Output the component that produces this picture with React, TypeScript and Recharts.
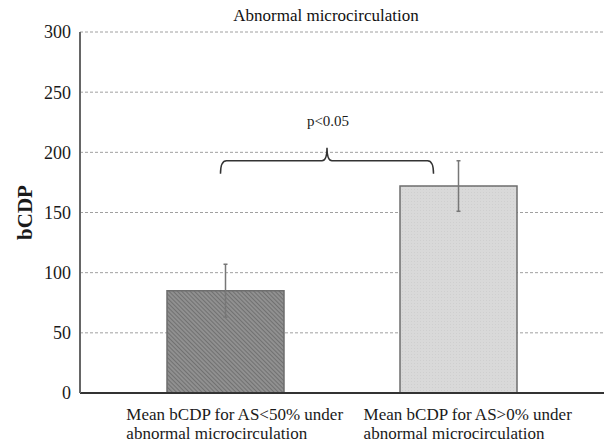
import React from "react";
import {
  BarChart,
  Bar,
  Cell,
  XAxis,
  YAxis,
  CartesianGrid,
  ErrorBar,
  ReferenceLine,
  Label,
} from "recharts";

const CATEGORIES = [
  "Mean bCDP for AS<50% under\nabnormal microcirculation",
  "Mean bCDP for AS>0% under\nabnormal microcirculation",
];
const MEANS = [85, 172];
const ERRORS = [22, 21];
const Y_TICKS = [0, 50, 100, 150, 200, 250, 300];
const BRACKET_LEVEL = 193;
const SIG_LABEL = "p<0.05";
const TITLE = "Abnormal microcirculation";

const FONT = "'Liberation Serif', 'Times New Roman', serif";
const BAR_FILLS = ["url(#hatchDark)", "url(#dotLight)"];

const data = CATEGORIES.map((name, i) => ({
  name,
  value: MEANS[i],
  err: [ERRORS[i], ERRORS[i]],
}));

function textWidth(s: string, font: string) {
  const c = document.createElement("canvas").getContext("2d");
  if (!c) return s.length * 8;
  c.font = font;
  return c.measureText(s).width;
}

function CategoryTick(props: any) {
  const { x, y, payload } = props;
  const lines = String(payload.value).split("\n");
  const w = textWidth(lines[0], `17px ${FONT}`);
  const startX = x + 10 - w / 2;
  return (
    <g>
      {lines.map((l, i) => (
        <text
          key={i}
          x={startX}
          y={y + 19 + i * 19}
          fontFamily={FONT}
          fontSize={17}
          fill="#1a1a1a"
          textAnchor="start"
        >
          {l}
        </text>
      ))}
    </g>
  );
}

// curly brace drawn between the two category centres
function Brace(props: any) {
  const { x1, x2, y1 } = props;
  if (x1 == null || x2 == null) return null;
  const L = x1 - 5;
  const R = x2 - 25;
  const M = (L + R) / 2;
  const y = y1;
  const d = `M ${L} ${y + 13} Q ${L} ${y} ${L + 6} ${y} L ${M - 5} ${y} Q ${M} ${y} ${M} ${y - 13} Q ${M} ${y} ${M + 5} ${y} L ${R - 6} ${y} Q ${R} ${y} ${R} ${y + 13}`;
  return (
    <g>
      <path d={d} fill="none" stroke="#333" strokeWidth={1.5} />
      <text x={M + 1} y={y - 35} textAnchor="middle" fontFamily={FONT} fontSize={15} fill="#1a1a1a">
        {SIG_LABEL}
      </text>
    </g>
  );
}

export default function App() {
  return (
    <div style={{ position: "fixed", left: 0, top: 0, width: 607, height: 445, background: "#fff" }}>
      <div
        style={{
          position: "absolute",
          left: 326,
          top: 6,
          transform: "translateX(-50%)",
          fontFamily: FONT,
          fontSize: 17,
          color: "#111",
          whiteSpace: "nowrap",
        }}
      >
        {TITLE}
      </div>
      <BarChart
        width={607}
        height={445}
        data={data}
        margin={{ top: 32, right: 3, left: 0, bottom: 0 }}
        barSize={117}
      >
        <defs>
          <pattern id="hatchDark" width="3" height="3" patternUnits="userSpaceOnUse" patternTransform="rotate(-45)">
            <rect width="3" height="3" fill="#909090" />
            <line x1="0.5" y1="0" x2="0.5" y2="3" stroke="#717171" strokeWidth="1" />
          </pattern>
          <pattern id="dotLight" width="3" height="3" patternUnits="userSpaceOnUse">
            <rect width="3" height="3" fill="#d9d9d9" />
            <rect width="1" height="1" fill="#cfcfcf" />
          </pattern>
        </defs>
        <CartesianGrid vertical={false} stroke="#a0a0a0" strokeDasharray="3 2" />
        <XAxis
          dataKey="name"
          height={52}
          padding={{ left: 29, right: 29 }}
          tickLine={false}
          axisLine={{ stroke: "#333", strokeWidth: 2 }}
          tick={<CategoryTick />}
          interval={0}
        />
        <XAxis
          xAxisId="top"
          dataKey="name"
          orientation="top"
          height={0}
          tick={false}
          tickLine={false}
          axisLine={{ stroke: "#555", strokeWidth: 1.5 }}
        />
        <YAxis
          domain={[0, 300]}
          ticks={Y_TICKS}
          width={80}
          tickLine={false}
          tickMargin={3}
          axisLine={{ stroke: "#666", strokeWidth: 2 }}
          tick={{ fill: "#1a1a1a", fontSize: 18, fontFamily: FONT }}
        >
          <Label
            value="bCDP"
            angle={-90}
            position="center"
            dx={-15}
            style={{ fontFamily: FONT, fontSize: 21, fontWeight: "bold", fill: "#1a1a1a" }}
          />
        </YAxis>
        <YAxis
          yAxisId="right"
          orientation="right"
          domain={[0, 300]}
          width={0}
          tick={false}
          tickLine={false}
          axisLine={{ stroke: "#333", strokeWidth: 2 }}
        />
        <Bar dataKey="value" stroke="#6e6e6e" strokeWidth={1.5} isAnimationActive={false}>
          {data.map((d, i) => (
            <Cell key={d.name} fill={BAR_FILLS[i]} />
          ))}
          <ErrorBar dataKey="err" width={2} stroke="#777" strokeWidth={1.5} isAnimationActive={false} />
        </Bar>
        <ReferenceLine
          segment={[
            { x: CATEGORIES[0], y: BRACKET_LEVEL },
            { x: CATEGORIES[1], y: BRACKET_LEVEL },
          ]}
          ifOverflow="visible"
          shape={<Brace />}
        />
      </BarChart>
    </div>
  );
}
